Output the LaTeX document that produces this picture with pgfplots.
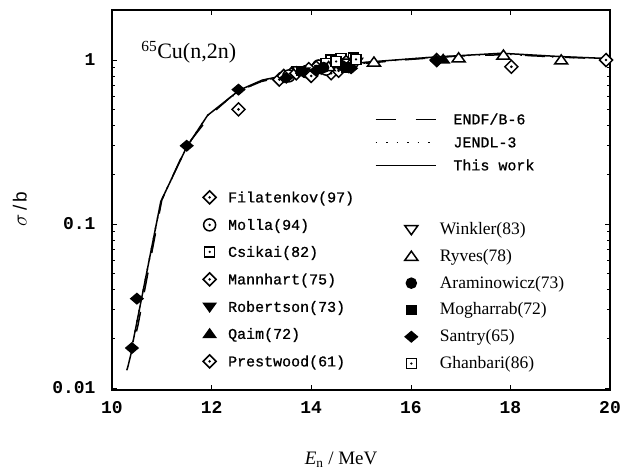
\documentclass[border=0pt]{standalone}
\usepackage{pgfplots}
\pgfplotsset{compat=1.18}
\usepackage{fontspec}
\setmainfont{Liberation Serif}
\newfontfamily\mono[FakeBold=0.8]{Liberation Mono}
\newfontfamily\monob{Liberation Mono}
\newfontfamily\sansf{Liberation Sans}

% open diamond with centre dot
\pgfdeclareplotmark{ddia}{%
  \pgfpathmoveto{\pgfqpoint{0pt}{\pgfplotmarksize}}%
  \pgfpathlineto{\pgfqpoint{\pgfplotmarksize}{0pt}}%
  \pgfpathlineto{\pgfqpoint{0pt}{-\pgfplotmarksize}}%
  \pgfpathlineto{\pgfqpoint{-\pgfplotmarksize}{0pt}}%
  \pgfpathclose
  \pgfsetfillcolor{white}\pgfusepathqfillstroke
  \pgfpathcircle{\pgfpointorigin}{0.22\pgfplotmarksize}%
  \pgfsetfillcolor{black}\pgfusepathqfill}
% open circle with centre dot
\pgfdeclareplotmark{odt}{%
  \pgfpathcircle{\pgfpointorigin}{\pgfplotmarksize}%
  \pgfsetfillcolor{white}\pgfusepathqfillstroke
  \pgfpathcircle{\pgfpointorigin}{0.22\pgfplotmarksize}%
  \pgfsetfillcolor{black}\pgfusepathqfill}
% open square with centre dot
\pgfdeclareplotmark{sdt}{%
  \pgfpathrectangle{\pgfqpoint{-\pgfplotmarksize}{-\pgfplotmarksize}}{\pgfqpoint{2\pgfplotmarksize}{2\pgfplotmarksize}}%
  \pgfsetfillcolor{white}\pgfusepathqfillstroke
  \pgfpathcircle{\pgfpointorigin}{0.25\pgfplotmarksize}%
  \pgfsetfillcolor{black}\pgfusepathqfill}
% filled diamond
\pgfdeclareplotmark{fdia}{%
  \pgfpathmoveto{\pgfqpoint{0pt}{0.85\pgfplotmarksize}}%
  \pgfpathlineto{\pgfqpoint{\pgfplotmarksize}{0pt}}%
  \pgfpathlineto{\pgfqpoint{0pt}{-0.85\pgfplotmarksize}}%
  \pgfpathlineto{\pgfqpoint{-\pgfplotmarksize}{0pt}}%
  \pgfpathclose
  \pgfsetfillcolor{black}\pgfusepathqfillstroke}
% triangles
\pgfdeclareplotmark{otu}{%
  \pgfpathmoveto{\pgfqpoint{0pt}{0.8\pgfplotmarksize}}%
  \pgfpathlineto{\pgfqpoint{\pgfplotmarksize}{-0.6\pgfplotmarksize}}%
  \pgfpathlineto{\pgfqpoint{-\pgfplotmarksize}{-0.6\pgfplotmarksize}}%
  \pgfpathclose
  \pgfsetfillcolor{white}\pgfusepathqfillstroke}
\pgfdeclareplotmark{ftu}{%
  \pgfpathmoveto{\pgfqpoint{0pt}{0.8\pgfplotmarksize}}%
  \pgfpathlineto{\pgfqpoint{\pgfplotmarksize}{-0.6\pgfplotmarksize}}%
  \pgfpathlineto{\pgfqpoint{-\pgfplotmarksize}{-0.6\pgfplotmarksize}}%
  \pgfpathclose
  \pgfsetfillcolor{black}\pgfusepathqfillstroke}
\pgfdeclareplotmark{otd}{%
  \pgfpathmoveto{\pgfqpoint{0pt}{-0.8\pgfplotmarksize}}%
  \pgfpathlineto{\pgfqpoint{\pgfplotmarksize}{0.6\pgfplotmarksize}}%
  \pgfpathlineto{\pgfqpoint{-\pgfplotmarksize}{0.6\pgfplotmarksize}}%
  \pgfpathclose
  \pgfsetfillcolor{white}\pgfusepathqfillstroke}
\pgfdeclareplotmark{ftd}{%
  \pgfpathmoveto{\pgfqpoint{0pt}{-0.8\pgfplotmarksize}}%
  \pgfpathlineto{\pgfqpoint{\pgfplotmarksize}{0.6\pgfplotmarksize}}%
  \pgfpathlineto{\pgfqpoint{-\pgfplotmarksize}{0.6\pgfplotmarksize}}%
  \pgfpathclose
  \pgfsetfillcolor{black}\pgfusepathqfillstroke}
\pgfdeclareplotmark{fci}{%
  \pgfpathcircle{\pgfpointorigin}{\pgfplotmarksize}%
  \pgfsetfillcolor{black}\pgfusepathqfillstroke}
\pgfdeclareplotmark{fsq}{%
  \pgfpathrectangle{\pgfqpoint{-\pgfplotmarksize}{-\pgfplotmarksize}}{\pgfqpoint{2\pgfplotmarksize}{2\pgfplotmarksize}}%
  \pgfsetfillcolor{black}\pgfusepathqfillstroke}

\pgfplotsset{
  mk/.style={only marks, mark=#1, mark options={line width=1.5bp, solid}},
  common/.style={scale only axis, width=498bp, height=380bp,
    at={(0,0)}, anchor=south west},
  mleg/.style={legend image code/.code={\draw[##1] plot coordinates {(0bp,0bp)};}},
}

\begin{document}
\begin{tikzpicture}
\path (-112bp,-83bp) rectangle (520bp,390bp);
\begin{axis}[common,
  xmin=10, xmax=20, ymode=log, ymin=0.0097, ymax=2.02,
  xtick={10,12,14,16,18,20}, xticklabels={10,12,14,16,18,20},
  ytick={0.01,0.1,1}, yticklabels={0.01,0.1,1},
  minor xtick={},
  tick align=inside, major tick length=5bp, minor tick length=3bp,
  tick style={line width=0.6bp, black},
  axis line style={line width=1.4bp},
  xticklabel style={font=\monob\bfseries\fontsize{18bp}{18bp}\selectfont, yshift=-8bp},
  yticklabel style={font=\monob\bfseries\fontsize{18bp}{18bp}\selectfont, xshift=-13bp},
  xlabel={\textit{E}\textsubscript{n} / MeV},
  xlabel style={at={(axis description cs:0.46,-0.184)}, anchor=center, font=\fontsize{19bp}{19bp}\selectfont},
  ylabel={\sansf $\sigma$\,/\,b},
  ylabel style={at={(axis description cs:-0.185,0.476)}, anchor=center, font=\sansf\fontsize{19bp}{19bp}\selectfont},
  legend style={at={(axis description cs:0.528,0.728)}, anchor=north west, draw=none, fill=none,
    inner sep=0pt, outer sep=0pt, row sep=11bp,
    font=\mono\fontsize{15bp}{15bp}\selectfont,
    nodes={inner sep=0pt, text height=11bp, text depth=1bp},
    /tikz/every odd column/.append style={column sep=17bp}},
  legend cell align=left,
  legend image code/.code={\draw[#1] (0bp,0bp) -- (60bp,0bp);},
]
% ENDF/B-6
\addplot[black, line width=1.5bp, dash pattern=on 20bp off 20bp] coordinates {
(10.05,0.0075) (10.22,0.0107) (10.32,0.0135) (10.52,0.024) (11.0,0.14) (11.5,0.30)
(12.0,0.47) (12.5,0.64) (13.0,0.74) (13.5,0.80) (14.0,0.86) (14.5,0.91) (15.0,0.95)
(16.0,1.01) (17.0,1.06) (18.0,1.08) (19.0,1.04) (20.0,1.02)};
\addlegendentry{ENDF/B-6}
% JENDL-3
\addplot[black, line width=1.5bp, dash pattern=on 1.5bp off 9bp] coordinates {
(10.42,0.019) (10.98,0.137) (11.5,0.295) (11.92,0.46) (12.56,0.65) (13.02,0.75)
(13.5,0.80) (14.0,0.86) (14.5,0.91) (15.1,0.96) (16.4,1.04) (17.8,1.09) (19.0,1.04) (20.0,1.02)};
\addlegendentry{JENDL-3}
% This work
\addplot[black, line width=1.5bp] coordinates {
(10.42,0.019) (10.98,0.137) (11.5,0.295) (11.92,0.46) (12.56,0.656) (13.02,0.755)
(13.22,0.777) (13.6,0.82) (14.0,0.87) (14.5,0.92) (15.1,0.97) (16.42,1.04)
(17.82,1.10) (19.0,1.05) (20.0,1.02)};
\addlegendentry{This work}
% data
\addplot[mk=ddia, mark size=6.5bp, forget plot] coordinates {(13.36,0.76) (13.6,0.82) (14.05,0.87) (14.4,0.83) (14.75,0.92) (13.45,0.80)};
\addplot[mk=odt, mark size=6bp, forget plot] coordinates {(13.55,0.80) (13.9,0.85) (14.3,0.88) (14.8,0.95) (14.15,0.92)};
\addplot[mk=sdt, mark size=5bp, forget plot] coordinates {(14.4,1.0) (14.6,1.02) (14.85,1.03) (14.3,0.95)};
\addplot[mk=ddia, mark size=6.5bp, forget plot] coordinates {(13.7,0.83) (14.1,0.9) (14.7,0.97) (16.52,1.0) (13.95,0.88)};
\addplot[mk=ftd, mark size=6bp, forget plot] coordinates {(14.2,0.88) (13.85,0.85)};
\addplot[mk=ftu, mark size=6bp, forget plot] coordinates {(14.5,0.93) (16.65,1.01)};
\addplot[mk=ddia, mark size=6.5bp, forget plot] coordinates {(12.54,0.50) (14.0,0.80) (18.02,0.91) (19.92,1.0) (14.55,0.86)};
\addplot[mk=otd, mark size=6.5bp, forget plot] coordinates {(14.65,0.96) (14.9,0.97) (13.75,0.86)};
\addplot[mk=otu, mark size=6.5bp, forget plot] coordinates {(15.26,0.97) (16.96,1.03) (17.86,1.07) (19.02,1.0) (14.35,0.91)};
\addplot[mk=fci, mark size=5bp, forget plot] coordinates {(14.25,0.9) (14.6,0.93)};
\addplot[mk=fsq, mark size=4.5bp, forget plot] coordinates {(13.8,0.86) (14.7,0.90)};
\addplot[mk=fdia, mark size=6bp, forget plot] coordinates {(10.40,0.0175) (10.5,0.035) (11.5,0.30) (12.54,0.66) (13.5,0.78) (14.8,0.89) (16.52,0.99) (14.1,0.86)};
\addplot[mk=sdt, mark size=5bp, forget plot] coordinates {(14.5,0.98) (14.9,1.01)};
\node[anchor=west, font=\fontsize{22bp}{22bp}\selectfont] at (rel axis cs:0.052,0.889) {\textsuperscript{65}Cu(n,2n)};
\end{axis}
% left marker legend
\begin{axis}[common, hide axis, xmin=0, xmax=1, ymin=0, ymax=1, mleg,
  legend style={at={(axis description cs:0.183,0.524)}, anchor=north west, draw=none, fill=none,
    inner sep=0pt, outer sep=0pt, row sep=15bp,
    font=\mono\fontsize{15bp}{15bp}\selectfont,
    nodes={inner sep=0pt, text height=11bp, text depth=1bp},
    /tikz/every odd column/.append style={column sep=12bp}},
  legend cell align=left]
\addlegendimage{mark=ddia, mark size=6.5bp, mark options={line width=1.5bp}}
\addlegendentry{Filatenkov(97)}
\addlegendimage{mark=odt, mark size=6bp, mark options={line width=1.5bp}}
\addlegendentry{Molla(94)}
\addlegendimage{mark=sdt, mark size=5bp, mark options={line width=1.5bp}}
\addlegendentry{Csikai(82)}
\addlegendimage{mark=ddia, mark size=6.5bp, mark options={line width=1.5bp}}
\addlegendentry{Mannhart(75)}
\addlegendimage{mark=ftd, mark size=6bp, mark options={line width=1.5bp}}
\addlegendentry{Robertson(73)}
\addlegendimage{mark=ftu, mark size=6bp, mark options={line width=1.5bp}}
\addlegendentry{Qaim(72)}
\addlegendimage{mark=ddia, mark size=6.5bp, mark options={line width=1.5bp}}
\addlegendentry{Prestwood(61)}
\end{axis}
% right marker legend
\begin{axis}[common, hide axis, xmin=0, xmax=1, ymin=0, ymax=1, mleg,
  legend style={at={(axis description cs:0.588,0.438)}, anchor=north west, draw=none, fill=none,
    inner sep=0pt, outer sep=0pt, row sep=14.8bp,
    font=\fontsize{17.5bp}{17.5bp}\selectfont,
    nodes={inner sep=0pt, text height=11bp, text depth=1bp},
    /tikz/every odd column/.append style={column sep=22bp}},
  legend cell align=left]
\addlegendimage{mark=otd, mark size=6.5bp, mark options={line width=1.5bp}}
\addlegendentry{Winkler(83)}
\addlegendimage{mark=otu, mark size=6.5bp, mark options={line width=1.5bp}}
\addlegendentry{Ryves(78)}
\addlegendimage{mark=fci, mark size=5bp, mark options={line width=1.5bp}}
\addlegendentry{Araminowicz(73)}
\addlegendimage{mark=fsq, mark size=4.5bp, mark options={line width=1.5bp}}
\addlegendentry{Mogharrab(72)}
\addlegendimage{mark=fdia, mark size=6bp, mark options={line width=1.5bp}}
\addlegendentry{Santry(65)}
\addlegendimage{mark=sdt, mark size=5bp, mark options={line width=1.5bp}}
\addlegendentry{Ghanbari(86)}
\end{axis}
\end{tikzpicture}
\end{document}
